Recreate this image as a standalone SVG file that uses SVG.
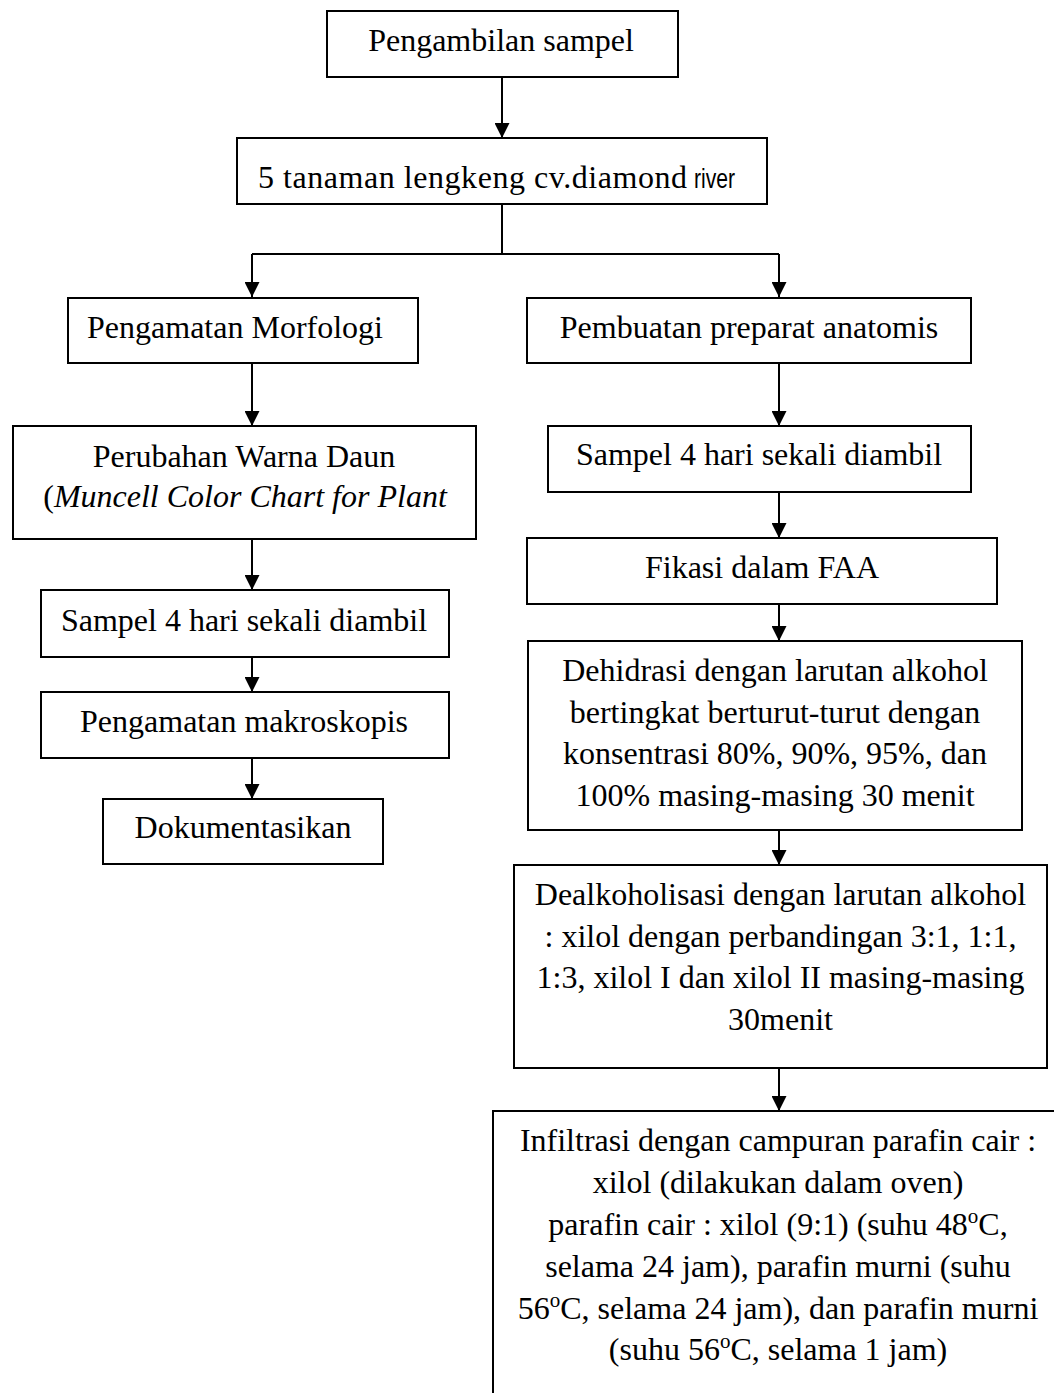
<svg xmlns="http://www.w3.org/2000/svg" width="1054" height="1393" viewBox="0 0 1054 1393">
<style>
.box{fill:#fff;stroke:#000;stroke-width:2}
.t{font-family:"Liberation Serif","Times New Roman",serif;font-size:32px;fill:#000;text-anchor:middle}
.ts{text-anchor:start}
.sans{font-family:"Liberation Sans",Arial,sans-serif;font-size:27px;fill:#000}
.conn{fill:none;stroke:#000;stroke-width:2}
</style>
<defs>
<marker id="ah" viewBox="0 0 15 15" refX="15" refY="7.5" markerWidth="15" markerHeight="15" orient="auto" markerUnits="userSpaceOnUse">
<path d="M0,0 L15,7.5 L0,15 z" fill="#000"/>
</marker>
</defs>
<rect width="1054" height="1393" fill="#fff"/>
<g id="connectors">
<path class="conn" d="M502,77 V138" marker-end="url(#ah)"/>
<path class="conn" d="M502,204 V254 M252,254 H779"/>
<path class="conn" d="M252,254 V297" marker-end="url(#ah)"/>
<path class="conn" d="M779,254 V297" marker-end="url(#ah)"/>
<path class="conn" d="M252,363 V426" marker-end="url(#ah)"/>
<path class="conn" d="M252,539 V590" marker-end="url(#ah)"/>
<path class="conn" d="M252,657 V692" marker-end="url(#ah)"/>
<path class="conn" d="M252,758 V799" marker-end="url(#ah)"/>
<path class="conn" d="M779,363 V426" marker-end="url(#ah)"/>
<path class="conn" d="M779,492 V538" marker-end="url(#ah)"/>
<path class="conn" d="M779,604 V641" marker-end="url(#ah)"/>
<path class="conn" d="M779,830 V865" marker-end="url(#ah)"/>
<path class="conn" d="M779,1068 V1111" marker-end="url(#ah)"/>
</g>
<g id="n1">
<rect class="box" x="327" y="11" width="351" height="66"/>
<text class="t" x="501" y="51">Pengambilan sampel</text>
</g>
<g id="n2">
<rect class="box" x="237" y="138" width="530" height="66"/>
<text class="t ts" x="258" y="188" textLength="429" lengthAdjust="spacing">5 tanaman lengkeng cv.diamond</text>
<text class="sans" x="694" y="188" textLength="41" lengthAdjust="spacingAndGlyphs">river</text>
</g>
<g id="n3">
<rect class="box" x="68" y="298" width="350" height="65"/>
<text class="t" x="235" y="338">Pengamatan Morfologi</text>
</g>
<g id="n4">
<rect class="box" x="13" y="426" width="463" height="113"/>
<text class="t" x="244" y="467">Perubahan Warna Daun</text>
<text class="t" x="245" y="507">(<tspan font-style="italic">Muncell Color Chart for Plant</tspan></text>
</g>
<g id="n5">
<rect class="box" x="41" y="590" width="408" height="67"/>
<text class="t" x="244" y="631">Sampel 4 hari sekali diambil</text>
</g>
<g id="n6">
<rect class="box" x="41" y="692" width="408" height="66"/>
<text class="t" x="244" y="732">Pengamatan makroskopis</text>
</g>
<g id="n7">
<rect class="box" x="103" y="799" width="280" height="65"/>
<text class="t" x="243" y="838">Dokumentasikan</text>
</g>
<g id="n8">
<rect class="box" x="527" y="298" width="444" height="65"/>
<text class="t" x="749" y="338">Pembuatan preparat anatomis</text>
</g>
<g id="n9">
<rect class="box" x="548" y="426" width="423" height="66"/>
<text class="t" x="759" y="465">Sampel 4 hari sekali diambil</text>
</g>
<g id="n10">
<rect class="box" x="527" y="538" width="470" height="66"/>
<text class="t" x="762" y="578">Fikasi dalam FAA</text>
</g>
<g id="n11">
<rect class="box" x="528" y="641" width="494" height="189"/>
<text class="t" x="775" y="681">Dehidrasi dengan larutan alkohol</text>
<text class="t" x="775" y="722.5">bertingkat berturut-turut dengan</text>
<text class="t" x="775" y="764">konsentrasi 80%, 90%, 95%, dan</text>
<text class="t" x="775" y="805.5">100% masing-masing 30 menit</text>
</g>
<g id="n12">
<rect class="box" x="514" y="865" width="533" height="203"/>
<text class="t" x="780.5" y="905">Dealkoholisasi dengan larutan alkohol</text>
<text class="t" x="780.5" y="946.5">: xilol dengan perbandingan 3:1, 1:1,</text>
<text class="t" x="780.5" y="988">1:3, xilol I dan xilol II masing-masing</text>
<text class="t" x="780.5" y="1029.5">30menit</text>
</g>
<g id="n13">
<rect class="box" x="493" y="1111" width="570" height="300"/>
<text class="t" x="778" y="1151">Infiltrasi dengan campuran parafin cair :</text>
<text class="t" x="778" y="1193">xilol (dilakukan dalam oven)</text>
<text class="t" x="778" y="1235">parafin cair : xilol (9:1) (suhu 48<tspan font-size="21" dy="-12">o</tspan><tspan dy="12">C,</tspan></text>
<text class="t" x="778" y="1277">selama 24 jam), parafin murni (suhu</text>
<text class="t" x="778" y="1318.5">56<tspan font-size="21" dy="-12">o</tspan><tspan dy="12">C, selama 24 jam), dan parafin murni</tspan></text>
<text class="t" x="778" y="1360">(suhu 56<tspan font-size="21" dy="-12">o</tspan><tspan dy="12">C, selama 1 jam)</tspan></text>
</g>
</svg>
